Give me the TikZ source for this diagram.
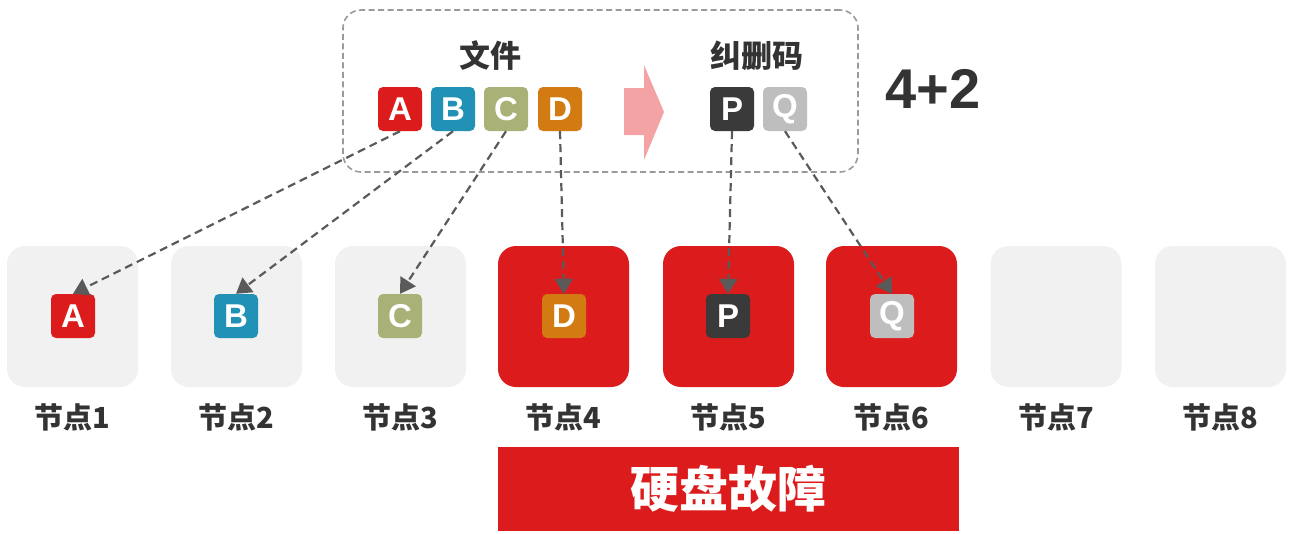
\documentclass[tikz,border=0pt]{standalone}
\usepackage{fontspec}
\setmainfont{Liberation Sans}
\newfontfamily\cjk{Noto Sans CJK SC}
\usetikzlibrary{arrows.meta}
\definecolor{cred}{HTML}{DC1C1C}
\definecolor{cblue}{HTML}{2192B6}
\definecolor{colive}{HTML}{A9B177}
\definecolor{corange}{HTML}{D27B12}
\definecolor{cdark}{HTML}{3A3A3A}
\definecolor{cgrey}{HTML}{BEBEBE}
\definecolor{cbg}{HTML}{F1F1F1}
\definecolor{cpink}{HTML}{F3A3A3}
\definecolor{ctext}{HTML}{333333}
\definecolor{cline}{HTML}{5A5A5A}
\definecolor{cbox}{HTML}{9A9A9A}
\begin{document}
\begin{tikzpicture}[x=1pt,y=-1pt,
  nodebox/.style={minimum width=131pt,minimum height=141pt,rounded corners=18pt,inner sep=0pt},
  letterbox/.style={minimum size=44pt,rounded corners=5pt,inner sep=0pt,text=white,
    font=\bfseries\fontsize{33}{33}\selectfont},
  lbl/.style={text=ctext,font=\cjk\bfseries\fontsize{29}{29}\selectfont,inner sep=0pt},
  title/.style={text=ctext,font=\cjk\bfseries\fontsize{31}{31}\selectfont,inner sep=0pt},
  conn/.style={draw=cline,line width=2.2pt,dash pattern=on 8pt off 5pt,
    -{Triangle[length=15pt,width=18pt]}}
]
\useasboundingbox (0,0) rectangle (1295,533);

% group box
\node[draw=cbox,line width=1.6pt,dash pattern=on 6pt off 3.5pt,rounded corners=18pt,
  minimum width=515pt,minimum height=162pt,inner sep=0pt] (grp) at (600.5,91) {};

\node[title] (tfile) at (490,56) {文件};
\node[title] (tcode) at (757,56) {纠删码};
\node[text=ctext,font=\bfseries\fontsize{56}{56}\selectfont,inner sep=0pt] (ratio) at (933,89) {4+2};

% top letter boxes
\node[letterbox,fill=cred] (A) at (400,109) {A};
\node[letterbox,fill=cblue] (B) at (453,109) {B};
\node[letterbox,fill=colive] (C) at (506,109) {C};
\node[letterbox,fill=corange] (D) at (560,109) {D};
\node[letterbox,fill=cdark] (P) at (732,109) {P};
\node[letterbox,fill=cgrey] (Q) at (785,109) {Q};

% pink arrow
\fill[cpink] (624,88) -- (644,88) -- (644,65) -- (664,112) -- (644,160) -- (644,135) -- (624,135) -- cycle;

% storage nodes
\node[nodebox,fill=cbg] (n1) at (72.5,316.5) {};
\node[nodebox,fill=cbg] (n2) at (236.5,316.5) {};
\node[nodebox,fill=cbg] (n3) at (400.5,316.5) {};
\node[nodebox,fill=cred] (n4) at (563.5,316.5) {};
\node[nodebox,fill=cred] (n5) at (728.5,316.5) {};
\node[nodebox,fill=cred] (n6) at (891.5,316.5) {};
\node[nodebox,fill=cbg] (n7) at (1056,316.5) {};
\node[nodebox,fill=cbg] (n8) at (1220.5,316.5) {};

\node[lbl] (l1) at (72.5,417) {节点1};
\node[lbl] (l2) at (236.5,417) {节点2};
\node[lbl] (l3) at (400.5,417) {节点3};
\node[lbl] (l4) at (563.5,417) {节点4};
\node[lbl] (l5) at (728.5,417) {节点5};
\node[lbl] (l6) at (891.5,417) {节点6};
\node[lbl] (l7) at (1056,417) {节点7};
\node[lbl] (l8) at (1220.5,417) {节点8};

% stored chunks
\node[letterbox,fill=cred] (a1) at (73,316) {A};
\node[letterbox,fill=cblue] (b2) at (236,316) {B};
\node[letterbox,fill=colive] (c3) at (400,316) {C};
\node[letterbox,fill=corange] (d4) at (564,316) {D};
\node[letterbox,fill=cdark] (p5) at (728,316) {P};
\node[letterbox,fill=cgrey] (q6) at (892,316) {Q};

% connectors
\draw[conn] (A.south) -- (a1.north);
\draw[conn] (B.south) -- (b2.north);
\draw[conn] (C.south) -- (c3.north);
\draw[conn] (D.south) -- (d4.north);
\draw[conn] (P.south) -- (p5.north);
\draw[conn] (Q.south) -- (q6.north);

% failure bar
\node[fill=cred,minimum width=461pt,minimum height=84pt,inner sep=0pt,text=white,
  font=\cjk\bfseries\fontsize{49}{49}\selectfont] (fail) at (728.5,489) {硬盘故障};
\end{tikzpicture}
\end{document}
